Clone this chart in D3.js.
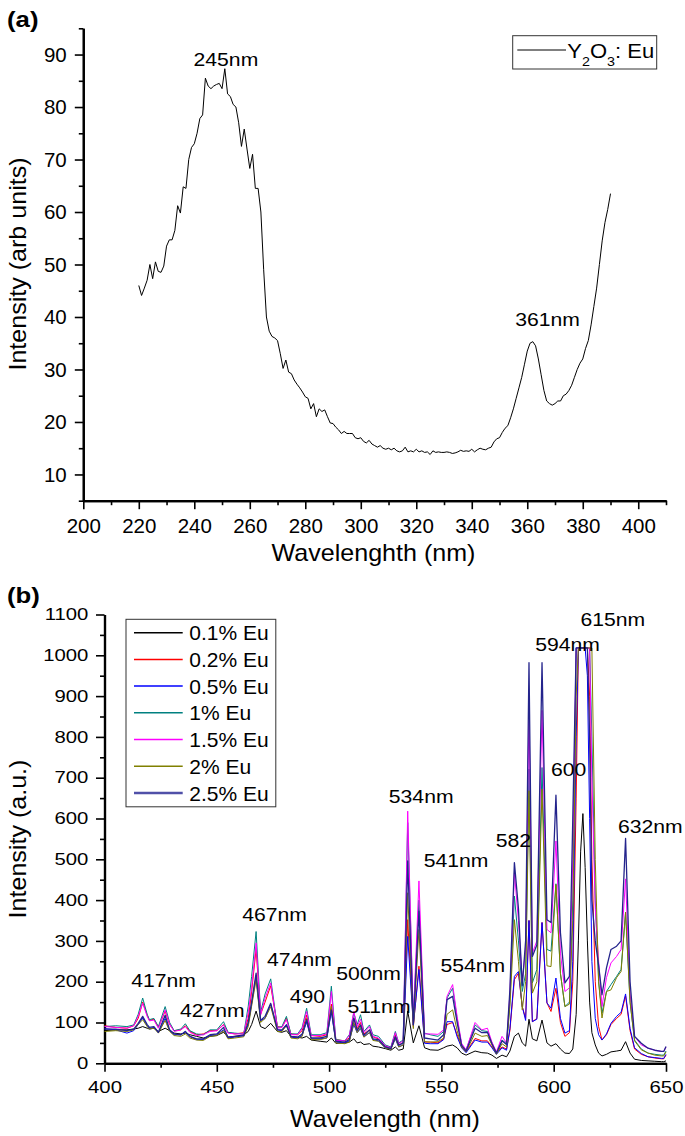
<!DOCTYPE html>
<html>
<head>
<meta charset="utf-8">
<script src="https://cdn.jsdelivr.net/npm/d3@7"></script>
<style>
  body { margin: 0; background: #fff; }
  text { font-family: "Liberation Sans", Arial, Helvetica, sans-serif; fill: #000; }
</style>
</head>
<body>
<svg id="chart" width="685" height="1136"></svg>
<script>
// ---- (a) excitation spectrum, one reading per nm from 220 nm ----
var excStart = 220, excStep = 1;
var excIntensity = [
  46.0, 44.1, 45.5, 47, 50, 47.3, 50.5, 48.7, 48.5, 49.7,
  53.5, 54.7, 54.7, 56.5, 61.2, 59.8, 64.8, 64.5, 70, 72.3,
  73, 75, 77.8, 78.5, 85.5, 84, 83.5, 84, 84.3, 84.5,
  83.5, 87.3, 82.5, 82, 80.5, 80, 77, 72.5, 75.8, 72,
  68.3, 71, 64.5, 64.5, 60, 49, 40, 37.3, 36.3, 36,
  35.5, 33, 30.2, 31.8, 29.5, 29.2, 28, 27.2, 26.5, 25.7,
  24.8, 24.5, 22.5, 23.5, 21, 22.5, 22, 22.3, 21, 19.8,
  19.7, 19, 18.5, 17.8, 18.2, 17.8, 17.8, 17.8, 17, 16.8,
  17, 16.3, 16, 16.5, 15.8, 15.5, 15.2, 15.5, 15, 14.8,
  15, 14.7, 15, 14.5, 14.3, 14.5, 15.2, 14.3, 14.5, 14.3,
  14.8, 14.3, 14.5, 14.2, 14.3, 13.8, 14.5, 14.2, 14.3, 14.2,
  14.2, 14.3, 14.2, 14, 14.1, 14.3, 14.6, 14.4, 14.5, 14.4,
  14.8, 14.3, 14.7, 15, 14.8, 14.7, 15, 15.2, 16.2, 16.8,
  17, 18, 18.8, 19.3, 20.8, 22.5, 24.5, 26.5, 28.5, 31,
  33.5, 35, 35.3, 34.5, 32, 29, 26, 24, 23.5, 23.2,
  23.5, 24, 24, 25, 25.3, 26, 27, 28.5, 30, 31.2,
  32, 34, 35.5, 38.5, 42, 45.5, 50, 54.5, 58, 60.5,
  63.5
];
var excXTicks = [200, 220, 240, 260, 280, 300, 320, 340, 360, 380, 400];
var excXMinor = [210, 230, 250, 270, 290, 310, 330, 350, 370, 390, 410];
var excYTicks = [10, 20, 30, 40, 50, 60, 70, 80, 90];
var excYMinor = [5, 15, 25, 35, 45, 55, 65, 75, 85, 95];
var excPeaks = [{ label: "245nm", nm: 251.4, v: 87.9 }, { label: "361nm", nm: 367.3, v: 38.2 }];

// ---- (b) emission spectra ----
var emWavelength = [
  400, 405, 410, 413, 415, 417, 419, 420, 422, 424,
  427, 429, 431, 434, 436, 438, 441, 444, 447, 450,
  453, 455, 458, 462, 464, 465.5, 467.5, 469.5, 471.5, 474,
  477, 479, 481, 483, 486, 488, 490, 492, 496, 499,
  501, 503, 507, 509, 511, 512.5, 514, 515.5, 518, 519.5,
  522, 525, 527.5, 529.5, 531, 533, 535, 537.5, 540, 542.5,
  545, 548.5, 551, 552.5, 555, 557, 559, 561, 565, 568,
  570.5, 572.5, 574.5, 577, 579, 580.5, 582.5, 584.3, 586, 587.5,
  589, 590.5, 592.5, 594.8, 597, 598.8, 601, 603, 605, 607,
  608.5, 610, 611, 612, 613, 614, 615, 616, 617, 618.5,
  620, 621.5, 623.5, 625.5, 628, 630, 632, 634, 636, 639,
  642, 645, 648, 649, 650
];
var eu01 = [
  80, 82, 82, 84, 86, 90, 86, 84, 86, 78,
  86, 80, 74, 72, 74, 70, 66, 62, 66, 68,
  76, 64, 66, 70, 78, 95, 128, 90, 85, 98,
  78, 76, 80, 66, 64, 62, 66, 57, 54, 52,
  62, 49, 50, 52, 60, 50, 52, 46, 48, 42,
  40, 36, 32, 40, 32, 35, 128, 50, 92, 38,
  33, 32, 38, 42, 45, 38, 25, 20, 30, 26,
  25, 20, 12, 20, 16, 30, 66, 74, 50, 42,
  108, 60, 55, 106, 50, 42, 48, 35, 25, 24,
  35, 120, 300, 520, 612, 480, 300, 150, 75, 45,
  25, 18, 22, 28, 30, 32, 53, 25, 10, 7,
  6, 5, 4, 4, 6
];
var eu02 = [
  92, 88, 86, 92, 110, 150, 118, 105, 108, 88,
  128, 95, 80, 82, 92, 78, 70, 72, 80, 80,
  95, 75, 72, 75, 110, 175, 280, 120, 150, 190,
  90, 88, 110, 72, 70, 80, 118, 68, 66, 70,
  145, 58, 55, 62, 110, 85, 100, 72, 82, 65,
  60, 42, 38, 70, 45, 50, 352, 90, 238, 52,
  52, 50, 60, 95, 100, 70, 40, 28, 61, 55,
  55, 40, 25, 40, 35, 80, 205, 221, 139, 110,
  350, 102, 110, 345, 148, 127, 184, 100, 66, 75,
  200, 650, 1018, 1018, 1018, 1018, 1018, 900, 500, 200,
  90, 57, 70, 95, 110, 120, 165, 80, 35, 22,
  16, 13, 11, 11, 20
];
var eu05 = [
  85, 82, 74, 80, 95, 111, 92, 85, 88, 75,
  110, 80, 70, 70, 78, 66, 58, 58, 68, 70,
  82, 62, 64, 68, 95, 145, 213, 105, 110, 145,
  82, 80, 95, 64, 62, 68, 101, 60, 60, 62,
  127, 52, 50, 55, 95, 75, 85, 65, 75, 58,
  55, 38, 35, 60, 40, 45, 311, 94, 230, 49,
  48, 48, 58, 102, 102, 65, 38, 26, 57, 52,
  52, 38, 22, 38, 32, 85, 213, 225, 139, 105,
  350, 102, 108, 345, 148, 135, 209, 110, 74, 80,
  250, 800, 1018, 1018, 1018, 1018, 950, 600, 250, 110,
  70, 57, 72, 98, 115, 125, 170, 85, 38, 24,
  16, 14, 12, 12, 22
];
var eu1 = [
  90, 92, 90, 94, 120, 160, 120, 107, 110, 90,
  139, 100, 80, 84, 97, 80, 72, 70, 82, 82,
  102, 76, 74, 72, 140, 213, 323, 125, 170, 207,
  88, 90, 115, 72, 72, 88, 135, 70, 70, 75,
  189, 58, 55, 70, 123, 95, 119, 78, 94, 70,
  66, 45, 40, 78, 50, 57, 590, 110, 400, 74,
  70, 66, 78, 160, 184, 110, 45, 33, 94, 80,
  78, 50, 25, 57, 48, 150, 410, 300, 176, 220,
  721, 197, 230, 725, 279, 275, 440, 220, 139, 150,
  400, 1018, 1018, 1018, 1018, 1018, 1018, 1018, 800, 400,
  200, 123, 176, 193, 213, 230, 370, 150, 57, 35,
  25, 22, 20, 20, 30
];
var eu15 = [
  90, 88, 86, 92, 115, 147, 115, 104, 106, 86,
  131, 96, 78, 82, 90, 76, 68, 70, 78, 80,
  94, 74, 72, 72, 125, 185, 295, 118, 160, 197,
  86, 88, 107, 70, 70, 85, 127, 68, 68, 72,
  176, 56, 55, 68, 127, 90, 108, 75, 90, 66,
  62, 43, 38, 75, 48, 55, 618, 107, 447, 72,
  72, 71, 82, 164, 193, 115, 49, 33, 100, 82,
  86, 52, 28, 66, 50, 170, 467, 350, 200, 280,
  869, 270, 300, 865, 328, 320, 545, 270, 176, 185,
  500, 1018, 1018, 1018, 1018, 1018, 1018, 1018, 700, 380,
  250, 139, 210, 246, 262, 279, 452, 170, 66, 45,
  37, 32, 29, 29, 40
];
var eu2 = [
  78, 80, 78, 82, 95, 107, 90, 84, 86, 74,
  105, 78, 68, 66, 72, 62, 57, 56, 66, 68,
  80, 60, 62, 65, 90, 140, 205, 100, 110, 139,
  78, 78, 92, 62, 60, 66, 110, 58, 58, 62,
  140, 50, 48, 52, 100, 75, 88, 64, 76, 56,
  54, 38, 34, 62, 40, 45, 418, 85, 328, 53,
  52, 53, 62, 120, 131, 80, 40, 28, 74, 66,
  68, 45, 22, 48, 40, 140, 352, 250, 131, 200,
  668, 172, 200, 672, 239, 237, 438, 220, 139, 145,
  350, 900, 1018, 1018, 1018, 1018, 1018, 1018, 1018, 500,
  200, 111, 176, 180, 210, 225, 370, 150, 55, 33,
  25, 20, 18, 18, 28
];
var eu25 = [
  84, 84, 80, 84, 98, 115, 95, 88, 90, 76,
  118, 82, 72, 70, 78, 66, 60, 60, 70, 72,
  88, 64, 66, 68, 100, 150, 221, 105, 115, 147,
  82, 82, 94, 66, 64, 72, 107, 62, 62, 66,
  131, 54, 52, 58, 111, 80, 94, 68, 82, 60,
  58, 40, 36, 65, 44, 50, 496, 94, 373, 62,
  60, 57, 70, 156, 164, 100, 44, 30, 86, 75,
  76, 48, 25, 55, 46, 180, 492, 380, 190, 300,
  982, 262, 290, 982, 352, 345, 657, 320, 197, 213,
  600, 1018, 1018, 1018, 1018, 1018, 1018, 800, 400, 300,
  240, 168, 234, 279, 287, 300, 551, 200, 66, 49,
  37, 32, 29, 29, 41
];
var emNames = ["0.1% Eu", "0.2% Eu", "0.5% Eu", "1% Eu", "1.5% Eu", "2% Eu", "2.5% Eu"];
var emSeries = [eu01, eu02, eu05, eu1, eu15, eu2, eu25];
var emColors = ["#000000", "#ff0000", "#0000ff", "#008080", "#ff00ff", "#808000", "#24248c"];
var emXTicks = [400, 450, 500, 550, 600, 650];
var emXMinor = [425, 475, 525, 575, 625];
var emYTicks = [0, 100, 200, 300, 400, 500, 600, 700, 800, 900, 1000, 1100];
var emYMinor = [50, 150, 250, 350, 450, 550, 650, 750, 850, 950, 1050];
var emPeaks = [
  { label: "417nm", nm: 426.3, v: 188 }, { label: "427nm", nm: 448, v: 113 },
  { label: "467nm", nm: 475.7, v: 350 }, { label: "474nm", nm: 486.8, v: 239 },
  { label: "490", nm: 490.3, v: 149 }, { label: "500nm", nm: 517.6, v: 203 },
  { label: "511nm", nm: 522.2, v: 124 }, { label: "534nm", nm: 541, v: 637 },
  { label: "541nm", nm: 556.5, v: 482 }, { label: "554nm", nm: 564, v: 225 },
  { label: "582", nm: 582, v: 529 }, { label: "594nm", nm: 606.2, v: 1010 },
  { label: "615nm", nm: 626.3, v: 1072 }, { label: "600", nm: 606.6, v: 705 },
  { label: "632nm", nm: 643, v: 565 }
];

var svg = d3.select("#chart");

// text that is drawn a little wider than the font, as in the scanned figure
function wideText(g, x, y, str, size, k, anchor, rot) {
  return g.append("text")
    .attr("transform", "translate(" + x + "," + y + ")" + (rot ? " rotate(" + rot + ")" : "") + " scale(" + k + ",1)")
    .attr("text-anchor", anchor || "middle")
    .style("font-size", size + "px")
    .text(str);
}

function drawAxes(g, x, y, o) {
  var bottom = y.range()[0], left = x.range()[0];
  // minor ticks
  g.append("g").attr("transform", "translate(0," + bottom + ")")
    .call(d3.axisBottom(x).tickValues(o.xMinor).tickSize(4.5).tickSizeOuter(0).tickFormat(""));
  g.append("g").attr("transform", "translate(" + left + ",0)")
    .call(d3.axisLeft(y).tickValues(o.yMinor).tickSize(4.5).tickSizeOuter(0).tickFormat(""));
  // major ticks with labels
  var gx = g.append("g").attr("transform", "translate(0," + bottom + ")")
    .call(d3.axisBottom(x).tickValues(o.xTicks).tickSize(8.5).tickSizeOuter(0).tickFormat(d3.format("d")));
  var gy = g.append("g").attr("transform", "translate(" + left + ",0)")
    .call(d3.axisLeft(y).tickValues(o.yTicks).tickSize(8.5).tickSizeOuter(0).tickFormat(d3.format("d")));
  g.selectAll(".domain").attr("stroke-width", 2.2);
  g.selectAll(".tick line").attr("stroke-width", 1.6);
  gx.selectAll(".tick text").attr("y", o.xLabelY).attr("transform", "scale(" + o.k + ",1)")
    .style("font-size", o.size + "px").attr("fill", "#000");
  gy.selectAll(".tick text").attr("x", -o.yLabelGap / o.k).attr("transform", "scale(" + o.k + ",1)")
    .style("font-size", o.size + "px").attr("fill", "#000");
  g.selectAll(".tick text").style("font-family", "'Liberation Sans', Arial, sans-serif");
}

// ================= panel (a) =================
var xa = d3.scaleLinear().domain([200, 410]).range([83.3, 666]);
var ya = d3.scaleLinear().domain([5, 95]).range([500.7, 28.3]);
var ga = svg.append("g");

drawAxes(ga, xa, ya, { xTicks: excXTicks, xMinor: excXMinor, yTicks: excYTicks, yMinor: excYMinor,
  xLabelY: 17.5, yLabelGap: 16.6, size: 20.5, k: 1.0 });

ga.append("path")
  .datum(excIntensity)
  .attr("fill", "none")
  .attr("stroke", "#000")
  .attr("stroke-width", 1)
  .attr("d", d3.line()
    .x(function(d, i) { return xa(excStart + i * excStep); })
    .y(function(d) { return ya(d); }));

excPeaks.forEach(function(p) {
  wideText(ga, xa(p.nm), ya(p.v), p.label, 17.5, 1.21);
});

wideText(ga, 7, 27, "(a)", 23, 1.12, "start").style("font-weight", "bold");
wideText(ga, 26, 264, "Intensity (arb units)", 23, 1.09, "middle", -90);
wideText(ga, 373.5, 561, "Wavelenghth (nm)", 23, 1.09);

// legend (a)
var la = ga.append("g");
la.append("rect").attr("x", 512.7).attr("y", 35.7).attr("width", 144).attr("height", 33.3)
  .attr("fill", "#fff").attr("stroke", "#333").attr("stroke-width", 1);
la.append("line").attr("x1", 517.3).attr("x2", 566).attr("y1", 50).attr("y2", 50)
  .attr("stroke", "#000").attr("stroke-width", 1);
var lt = la.append("text").attr("transform", "translate(567.3,58.3) scale(1.1,1)").style("font-size", "20px");
lt.append("tspan").text("Y");
lt.append("tspan").attr("dy", 7.4).style("font-size", "13px").text("2");
lt.append("tspan").attr("dy", -7.4).text("O");
lt.append("tspan").attr("dy", 7.4).style("font-size", "13px").text("3");
lt.append("tspan").attr("dy", -7.4).text(": Eu");

// ================= panel (b) =================
var xb = d3.scaleLinear().domain([400, 650]).range([104.5, 666]);
var yb = d3.scaleLinear().domain([0, 1100]).range([1063.3, 614.5]);
var gb = svg.append("g");

drawAxes(gb, xb, yb, { xTicks: emXTicks, xMinor: emXMinor, yTicks: emYTicks, yMinor: emYMinor,
  xLabelY: 18.7, yLabelGap: 16.2, size: 16, k: 1.27 });

var emLine = d3.line()
  .x(function(d, i) { return xb(emWavelength[i]); })
  .y(function(d) { return yb(d); });

gb.selectAll(".series")
  .data(emSeries)
  .enter().append("path")
    .attr("class", "series")
    .attr("fill", "none")
    .attr("stroke", function(d, i) { return emColors[i]; })
    .attr("stroke-width", function(d, i) { return i === 6 ? 1.3 : 1; })
    .attr("stroke-linejoin", "round")
    .attr("d", emLine);

emPeaks.forEach(function(p) {
  wideText(gb, xb(p.nm), yb(p.v), p.label, 17.5, 1.21);
});

wideText(gb, 7, 603, "(b)", 23, 1.12, "start").style("font-weight", "bold");
wideText(gb, 25.6, 839, "Intensity (a.u.)", 23, 1.09, "middle", -90);
wideText(gb, 385, 1127, "Wavelength (nm)", 23, 1.09);

// legend (b)
var lb = gb.append("g");
lb.append("rect").attr("x", 126).attr("y", 619.3).attr("width", 149.8).attr("height", 187.5)
  .attr("fill", "#fff").attr("stroke", "#333").attr("stroke-width", 1);
var rows = lb.selectAll(".row").data(emNames).enter().append("g")
  .attr("class", "row")
  .attr("transform", function(d, i) { return "translate(0," + (632.7 + i * 26.7) + ")"; });
rows.append("line").attr("x1", 134).attr("x2", 182.7)
  .attr("stroke", function(d, i) { return i === 6 ? "#5050a8" : emColors[i]; })
  .attr("stroke-width", function(d, i) { return i === 6 ? 2.5 : 1.5; });
rows.append("text").attr("x", 189.3).attr("y", 7.6).style("font-size", "21px")
  .text(function(d) { return d; });
</script>
</body>
</html>
